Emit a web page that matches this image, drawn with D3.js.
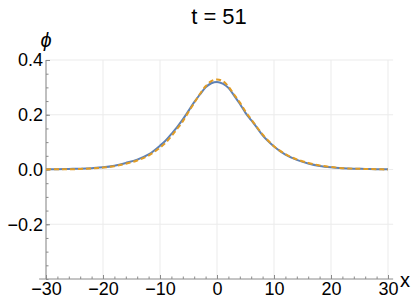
<!DOCTYPE html>
<html lang="en">
<head>
    <meta charset="UTF-8">
    <title>t = 51</title>
    <style>
        body { margin: 0; background: #fff; }
        text { font-family: "Liberation Sans", Arial, sans-serif; }
    </style>
</head>
<body>
<div id="chart"></div>
<script src="https://cdn.jsdelivr.net/npm/d3@7"></script>
<script>
    // values
    const xs = [-30, -28, -26, -24, -22, -20, -18, -16, -14, -12, -10, -9, -8, -7, -6, -5, -4, -3, -2, -1,
        0, 1, 2, 3, 4, 5, 6, 7, 8, 9, 10, 12, 14, 16, 18, 20, 22, 24, 26, 28, 30];
    const phiBlue = [0.001, 0.001, 0.002, 0.003, 0.005, 0.008, 0.014, 0.024, 0.036, 0.055, 0.087, 0.106, 0.130, 0.155, 0.183, 0.214, 0.246, 0.274, 0.300, 0.315,
        0.320, 0.314, 0.298, 0.270, 0.240, 0.207, 0.180, 0.153, 0.125, 0.103, 0.084, 0.054, 0.035, 0.022, 0.013, 0.008, 0.005, 0.003, 0.002, 0.001, 0.0005];
    const phiOrange = [0.000, 0.001, 0.001, 0.002, 0.004, 0.007, 0.012, 0.021, 0.033, 0.051, 0.080, 0.098, 0.122, 0.148, 0.176, 0.210, 0.243, 0.276, 0.304, 0.323,
        0.329, 0.323, 0.303, 0.274, 0.245, 0.212, 0.183, 0.155, 0.128, 0.105, 0.085, 0.056, 0.037, 0.024, 0.015, 0.009, 0.005, 0.003, 0.002, 0.001, 0.000];
    const xTicks = [-30, -20, -10, 0, 10, 20, 30];
    const yTicks = [-0.2, 0.0, 0.2, 0.4];

    const width = 415, height = 307;

    let svg = d3.select("#chart")
        .append("svg")
        .attr("width", width)
        .attr("height", height);

    var x = d3.scaleLinear().domain([-30, 30]).range([46, 388]);
    var y = d3.scaleLinear().domain([-0.4, 0.4]).range([279, 60]);
    var fmt = d3.format(".1f");

    // grid
    let grid = svg.append("g").attr("stroke", "#ebebeb").attr("stroke-width", 1);
    grid.selectAll("line.v")
        .data(xTicks)
        .join("line")
        .attr("x1", d => x(d)).attr("x2", d => x(d))
        .attr("y1", y(0.4)).attr("y2", y(-0.4));
    grid.selectAll("line.h")
        .data(yTicks)
        .join("line")
        .attr("x1", x(-30)).attr("x2", x(30.9))
        .attr("y1", d => y(d)).attr("y2", d => y(d));

    // minor ticks
    svg.append("g")
        .attr("transform", `translate(0, ${y(-0.4)})`)
        .call(d3.axisBottom(x).tickValues(d3.range(-30, 31, 2)).tickSize(-2.5).tickFormat(""))
        .call(g => g.select(".domain").remove());
    svg.append("g")
        .attr("transform", `translate(${x(-30)}, 0)`)
        .call(d3.axisLeft(y).tickValues(d3.range(-8, 9).map(d => d * 0.05)).tickSize(-2.5).tickFormat(""))
        .call(g => g.select(".domain").remove());

    // X坐标轴
    let gx = svg.append("g")
        .attr("transform", `translate(0, ${y(-0.4)})`)
        .call(d3.axisBottom(x).tickValues(xTicks).tickSize(-4).tickPadding(3).tickSizeOuter(0));
    gx.select(".domain").attr("d", `M${x(-31.2)},0H${x(30.9)}`);

    // Y坐标轴
    let gy = svg.append("g")
        .attr("transform", `translate(${x(-30)}, 0)`)
        .call(d3.axisLeft(y).tickValues(yTicks).tickFormat(fmt).tickSize(-4).tickPadding(3).tickSizeOuter(0));
    gy.select(".domain").attr("d", `M0,${y(0.4)}V${y(-0.4)}`);

    svg.selectAll(".tick line, .domain").attr("stroke", "#8a8a8a");
    svg.selectAll(".tick text")
        .attr("fill", "#000")
        .style("font-size", "18px")
        .style("font-family", "'Liberation Sans', Arial, sans-serif");

    // curves
    const ptsBlue = xs.map((d, i) => [d, phiBlue[i]]);
    const ptsOrange = xs.map((d, i) => [d, phiOrange[i]]);
    const line = d3.line().x(d => x(d[0])).y(d => y(d[1])).curve(d3.curveMonotoneX);

    svg.append("path")
        .datum(ptsBlue)
        .attr("d", line)
        .attr("fill", "none")
        .attr("stroke", "#5e81b5")
        .attr("stroke-width", 2);
    svg.append("path")
        .datum(ptsOrange)
        .attr("d", line)
        .attr("fill", "none")
        .attr("stroke", "#e19c24")
        .attr("stroke-width", 2)
        .attr("stroke-dasharray", "5,3");

    // labels
    svg.append("text")
        .attr("x", 219).attr("y", 24)
        .attr("text-anchor", "middle")
        .style("font-size", "22px")
        .text("t = 51");
    svg.append("text")
        .attr("x", 46).attr("y", 47)
        .attr("text-anchor", "middle")
        .style("font-size", "20px")
        .style("font-style", "italic")
        .text("ϕ");
    svg.append("text")
        .attr("x", 400).attr("y", 287)
        .style("font-size", "20px")
        .text("x");
</script>
</body>
</html>
